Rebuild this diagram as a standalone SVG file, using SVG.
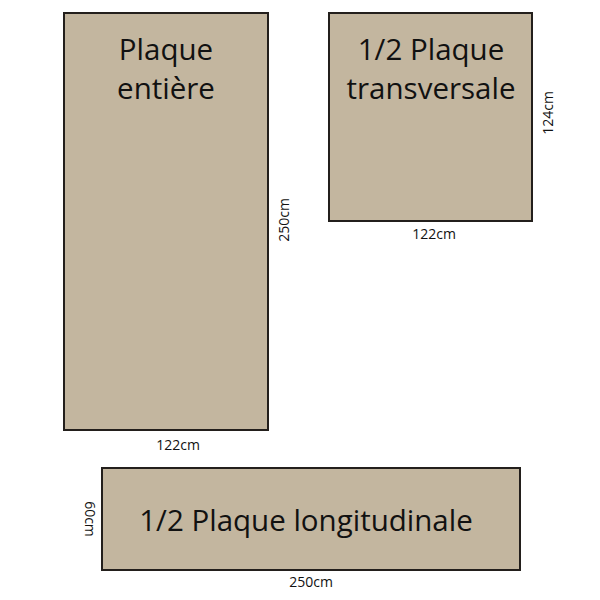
<svg xmlns="http://www.w3.org/2000/svg" width="600" height="600" viewBox="0 0 600 600">
<style>
.plate{fill:#c3b69f;stroke:#231f1c;stroke-width:2}
.title{font-family:"Open Sans","Liberation Sans",sans-serif;font-size:29.5px;fill:#111;text-anchor:middle}
.dim{font-family:"Open Sans","Liberation Sans",sans-serif;font-size:14px;fill:#111;text-anchor:middle}
</style>
<rect width="600" height="600" fill="#fff"/>
<g id="plaque-entiere">
<rect class="plate" x="64" y="13" width="204" height="417"/>
<text class="title" x="166" y="60">Plaque</text>
<text class="title" x="166" y="99">entière</text>
<text class="dim" x="178" y="450">122cm</text>
<text class="dim" transform="translate(289,220) rotate(-90)">250cm</text>
</g>
<g id="demi-transversale">
<rect class="plate" x="329" y="13" width="203" height="208"/>
<text class="title" x="431" y="60">1/2 Plaque</text>
<text class="title" x="431" y="99">transversale</text>
<text class="dim" x="434" y="239">122cm</text>
<text class="dim" transform="translate(553,113) rotate(-90)">124cm</text>
</g>
<g id="demi-longitudinale">
<rect class="plate" x="102" y="468" width="418" height="102"/>
<text class="title" x="306" y="531">1/2 Plaque longitudinale</text>
<text class="dim" x="311" y="587">250cm</text>
<text class="dim" transform="translate(85,519) rotate(90)">60cm</text>
</g>
<g id="connectors"/>
</svg>
